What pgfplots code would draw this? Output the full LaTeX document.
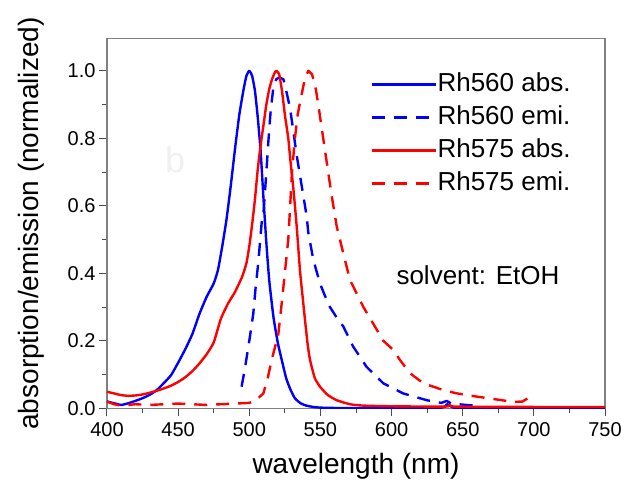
\documentclass[border=0pt]{standalone}
\usepackage{pgfplots}
\pgfplotsset{compat=1.18}
\usepackage{fontspec}
\setmainfont{Liberation Sans}

\pgfplotstableread{
x y
400 0.020
405 0.015
410 0.010
415 0.015
420 0.022
425 0.030
430 0.040
435 0.054
440 0.075
445 0.098
450 0.135
455 0.175
460 0.220
465 0.280
470 0.330
475 0.370
478 0.410
481 0.480
484 0.560
487 0.660
490 0.770
493 0.870
496 0.945
498 0.985
500 1.000
502 0.985
504 0.940
506 0.860
508 0.760
510 0.620
512 0.490
514 0.380
517 0.270
520 0.195
523 0.140
526 0.088
529 0.055
532 0.030
536 0.015
540 0.008
545 0.004
550 0.002
560 0.001
600 0.001
635 0.002
639 0.012
643 0.003
650 0.001
750 0.000
}\rhAabs

\pgfplotstableread{
x y
494.6 0.064
497 0.120
500 0.200
502.8 0.280
504.5 0.360
506.3 0.430
508.7 0.550
510 0.580
512 0.700
513.4 0.790
515 0.880
516.9 0.950
519 0.975
521 0.980
524 0.975
526 0.940
528.6 0.890
531 0.820
533.3 0.750
536.8 0.660
540.3 0.570
541.5 0.520
545 0.440
549.7 0.370
553 0.335
556.7 0.300
562 0.265
566 0.243
573 0.183
582.4 0.123
594.2 0.074
608.2 0.044
624.7 0.024
635 0.016
638.7 0.022
642 0.014
655 0.009
660 0.008
}\rhAemi

\pgfplotstableread{
x y
400 0.049
405 0.044
410 0.039
415 0.037
420 0.038
425 0.041
430 0.046
435 0.052
440 0.059
445 0.067
450 0.078
455 0.092
460 0.110
465 0.133
470 0.160
475 0.195
480 0.265
485 0.310
490 0.345
495 0.390
498 0.430
500 0.480
502 0.545
504 0.620
506 0.710
508 0.780
510 0.840
512 0.900
514 0.945
516 0.975
518 0.995
519 1.000
521 0.990
523 0.940
525 0.870
527.4 0.800
529 0.730
531 0.650
533.3 0.540
535.6 0.410
537.5 0.330
539.2 0.260
541 0.190
542.7 0.143
546 0.090
549.7 0.064
555 0.040
561.4 0.024
570.8 0.012
580 0.008
600 0.006
638 0.005
641 0.010
645 0.005
700 0.004
750 0.004
}\rhBabs

\pgfplotstableread{
x y
400 0.020
405 0.012
410 0.008
420 0.012
430 0.010
440 0.012
450 0.014
460 0.012
470 0.010
480 0.012
490 0.014
500 0.016
505 0.025
509.9 0.044
513 0.090
515.7 0.143
518 0.180
520.4 0.220
522 0.280
524 0.360
527.4 0.500
528.6 0.590
530 0.700
532.1 0.800
534 0.870
536.8 0.930
539 0.975
541.5 1.000
544 0.990
546.2 0.960
548.5 0.900
550.9 0.830
554.4 0.730
557.9 0.630
561.4 0.540
566 0.460
570.8 0.380
575.5 0.340
580.2 0.300
587.2 0.250
594.2 0.200
601.2 0.173
605.9 0.143
613 0.104
622.3 0.074
636.4 0.054
645 0.045
652.8 0.039
669.2 0.029
685.5 0.019
692 0.020
697.3 0.034
}\rhBemi

\begin{document}
\begin{tikzpicture}
\begin{axis}[
    scale only axis,
    width=498bp, height=369.6bp,
    xmin=400, xmax=750,
    ymin=0, ymax=1.095,
    xtick={400,450,...,750},
    ytick={0,0.2,...,1.0},
    minor x tick num=1,
    minor y tick num=1,
    tick align=outside,
    tick pos=left,
    major tick length=8bp,
    minor tick length=5bp,
    axis line style={draw=gray, line width=1.2bp},
    every tick/.style={gray!60!black, line width=1bp},
    yticklabel style={/pgf/number format/fixed, /pgf/number format/precision=1, /pgf/number format/fixed zerofill},
    /pgf/number format/assume math mode=true,
    tick label style={font=\fontsize{20bp}{24bp}\selectfont},
    xticklabel style={yshift=-3bp},
    xlabel={wavelength (nm)},
    ylabel={absorption/emission (normalized)},
    label style={font=\fontsize{28bp}{33bp}\selectfont},
    xlabel style={at={(axis description cs:0.5,-0.157)}, anchor=center},
    ylabel style={at={(axis description cs:-0.152,0.5)}, anchor=center},
    legend image code/.code={\draw[#1] (0bp,0bp) -- (64bp,0bp);},
    legend style={at={(0.524,0.915)}, anchor=north west, draw=none, fill=none,
        font=\fontsize{26bp}{31bp}\selectfont, row sep=9bp,
        nodes={inner sep=0pt, text height=19bp, text depth=5bp}},
    legend cell align=left,
    every even column/.append style={column sep=5bp},
    every axis plot/.append style={line width=2.4bp, line join=round},
    emi/.style={dash pattern=on 13bp off 9bp},
]
\addplot[blue, no markers, smooth, tension=0.3] table {\rhAabs};
\addlegendentry{Rh560 abs.}
\addplot[blue, no markers, emi] table {\rhAemi};
\addlegendentry{Rh560 emi.}
\addplot[red, no markers, smooth, tension=0.3] table {\rhBabs};
\addlegendentry{Rh575 abs.}
\addplot[red, no markers, emi] table {\rhBemi};
\addlegendentry{Rh575 emi.}
\node[font=\fontsize{26bp}{31bp}\selectfont] at (axis cs:660.7,0.395) {solvent: EtOH};
\node[font=\fontsize{36bp}{40bp}\selectfont, text=gray!12] at (axis cs:447.8,0.736) {b};
\end{axis}
\pgfresetboundingbox
\path[use as bounding box] ([shift={(-107bp,-79bp)}]current axis.south west) rectangle ([shift={(16bp,38.7bp)}]current axis.north east);
\end{tikzpicture}
\end{document}
